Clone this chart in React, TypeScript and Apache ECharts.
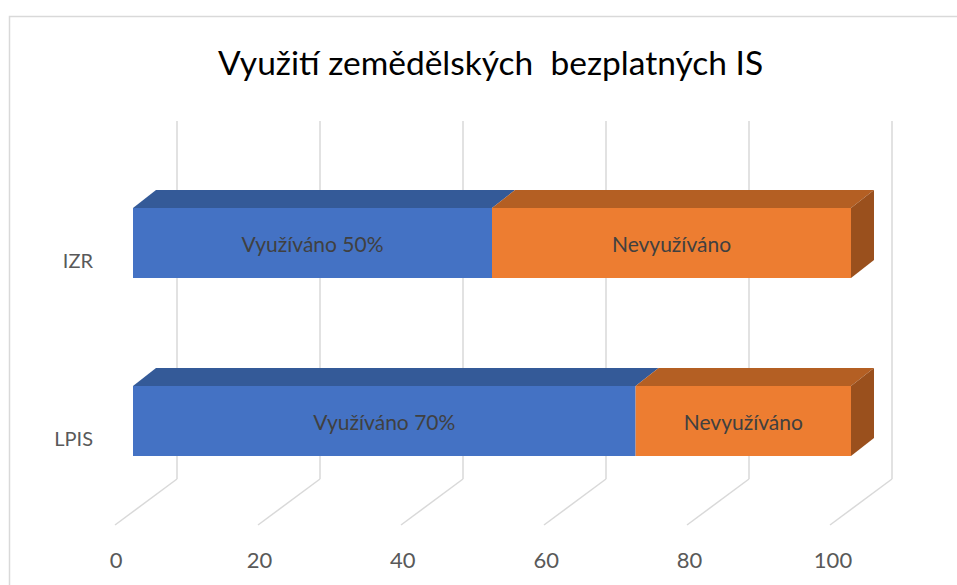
import React, { useEffect, useRef } from "react";
import * as echarts from "echarts";

const TITLE = "Využití zemědělských  bezplatných IS";
const categories = ["LPIS", "IZR"];
const usedValues = [70, 50];
const unusedValues = [30, 50];
const usedLabels = ["Využíváno 70%", "Využíváno 50%"];
const unusedLabels = ["Nevyužíváno", "Nevyužíváno"];
const xTicks = [0, 20, 40, 60, 80, 100];
const X_MIN = 0;
const X_MAX = 100;
const X_STEP = 20;

const FONT = "Lato, 'Open Sans', sans-serif";
const DEPTH_DX = 23;
const DEPTH_DY = -18;
const FLOOR_DX = -62;
const FLOOR_DY = 46;
const BAR_RATIO = 70 / 178;

const BLUE = { front: "#4472C4", top: "#345A98", side: "#2F5289" };
const ORANGE = { front: "#ED7D31", top: "#B45F23", side: "#9A501D" };

function makeBarRender(colors: any, labels: string[], isLast: boolean) {
  return (params: any, api: any) => {
    const start = api.value(0);
    const end = api.value(1);
    const cat = api.value(2);
    const p0 = api.coord([start, cat]);
    const p1 = api.coord([end, cat]);
    const band = api.size([0, 1])[1];
    const h = band * BAR_RATIO;
    const x0 = p0[0];
    const x1 = p1[0];
    const yTop = p0[1] - h / 2;
    const yBot = p0[1] + h / 2;
    const children: any[] = [
      {
        type: "polygon",
        shape: {
          points: [
            [x0, yTop],
            [x1, yTop],
            [x1 + DEPTH_DX, yTop + DEPTH_DY],
            [x0 + DEPTH_DX, yTop + DEPTH_DY],
          ],
        },
        style: { fill: colors.top },
      },
      {
        type: "rect",
        shape: { x: x0, y: yTop, width: x1 - x0, height: h },
        style: { fill: colors.front },
      },
    ];
    if (isLast) {
      children.push({
        type: "polygon",
        shape: {
          points: [
            [x1, yTop],
            [x1 + DEPTH_DX, yTop + DEPTH_DY],
            [x1 + DEPTH_DX, yBot + DEPTH_DY],
            [x1, yBot],
          ],
        },
        style: { fill: colors.side },
      });
    }
    children.push({
      type: "text",
      x: (x0 + x1) / 2,
      y: p0[1],
      style: {
        text: labels[params.dataIndex],
        align: "center",
        verticalAlign: "middle",
        fill: "#404040",
        fontSize: 21,
        fontFamily: FONT,
      },
    });
    return { type: "group", children };
  };
}

export default function App() {
  const ref = useRef<HTMLDivElement>(null);
  useEffect(() => {
    document.body.style.margin = "0";
    const chart = echarts.init(ref.current!, null, { renderer: "svg" });
    const usedData = categories.map((_, i) => [0, usedValues[i], i]);
    const unusedData = categories.map((_, i) => [
      usedValues[i],
      usedValues[i] + unusedValues[i],
      i,
    ]);
    chart.setOption({
      animation: false,
      backgroundColor: "#ffffff",
      graphic: [
        {
          type: "rect",
          shape: { x: 9.5, y: 16.5, width: 1200, height: 1000 },
          style: { fill: "none", stroke: "#d9d9d9", lineWidth: 1.5 },
          silent: true,
          z: -10,
        },
        {
          type: "text",
          x: 490.5,
          y: 62,
          style: {
            text: TITLE,
            align: "center",
            verticalAlign: "middle",
            fill: "#000000",
            fontSize: 33.5,
            fontFamily: FONT,
          },
        },
      ],
      grid: [
        { left: 177, right: 65, top: 121, bottom: 106 },
        { left: 116, right: 124, top: 524, bottom: 60 },
        { left: 133, right: 106, top: 154, bottom: 75 },
        { left: 133, right: 106, top: 171, bottom: 58 },
      ],
      xAxis: [
        {
          gridIndex: 0,
          type: "value",
          min: X_MIN,
          max: X_MAX,
          interval: X_STEP,
          axisLine: { show: false },
          axisTick: { show: false },
          axisLabel: { show: false },
          splitLine: { show: true, lineStyle: { color: "#d9d9d9", width: 1.5 } },
        },
        {
          gridIndex: 1,
          type: "value",
          min: X_MIN,
          max: X_MAX,
          interval: X_STEP,
          axisLine: { show: false },
          axisTick: { show: false },
          splitLine: { show: false },
          axisLabel: {
            show: true,
            margin: 23,
            color: "#595959",
            fontSize: 22,
            fontFamily: FONT,
          },
        },
        {
          gridIndex: 2,
          type: "value",
          min: X_MIN,
          max: X_MAX,
          show: false,
        },
        {
          gridIndex: 3,
          type: "value",
          min: X_MIN,
          max: X_MAX,
          show: false,
        },
      ],
      yAxis: [
        { gridIndex: 0, type: "value", min: 0, max: 1, show: false },
        { gridIndex: 1, type: "value", min: 0, max: 1, show: false },
        {
          gridIndex: 2,
          type: "category",
          data: categories,
          show: false,
        },
        {
          gridIndex: 3,
          type: "category",
          data: categories,
          axisLine: { show: false },
          axisTick: { show: false },
          splitLine: { show: false },
          axisLabel: {
            margin: 40,
            color: "#595959",
            fontSize: 20,
            fontFamily: FONT,
          },
        },
      ],
      series: [
        {
          type: "custom",
          name: "floor",
          xAxisIndex: 0,
          yAxisIndex: 0,
          silent: true,
          data: xTicks.map((v) => [v, 0]),
          encode: { x: 0, y: 1 },
          renderItem: (_p: any, api: any) => {
            const p = api.coord([api.value(0), 0]);
            return {
              type: "line",
              shape: {
                x1: p[0],
                y1: p[1],
                x2: p[0] + FLOOR_DX,
                y2: p[1] + FLOOR_DY,
              },
              style: { stroke: "#d9d9d9", lineWidth: 1.5 },
            };
          },
        },
        {
          type: "custom",
          name: "Využíváno",
          xAxisIndex: 2,
          yAxisIndex: 2,
          data: usedData,
          encode: { x: [0, 1], y: 2 },
          renderItem: makeBarRender(BLUE, usedLabels, false),
        },
        {
          type: "custom",
          name: "Nevyužíváno",
          xAxisIndex: 2,
          yAxisIndex: 2,
          data: unusedData,
          encode: { x: [0, 1], y: 2 },
          renderItem: makeBarRender(ORANGE, unusedLabels, true),
        },
      ],
    });
    return () => chart.dispose();
  }, []);
  return <div ref={ref} style={{ width: 957, height: 585 }} />;
}
